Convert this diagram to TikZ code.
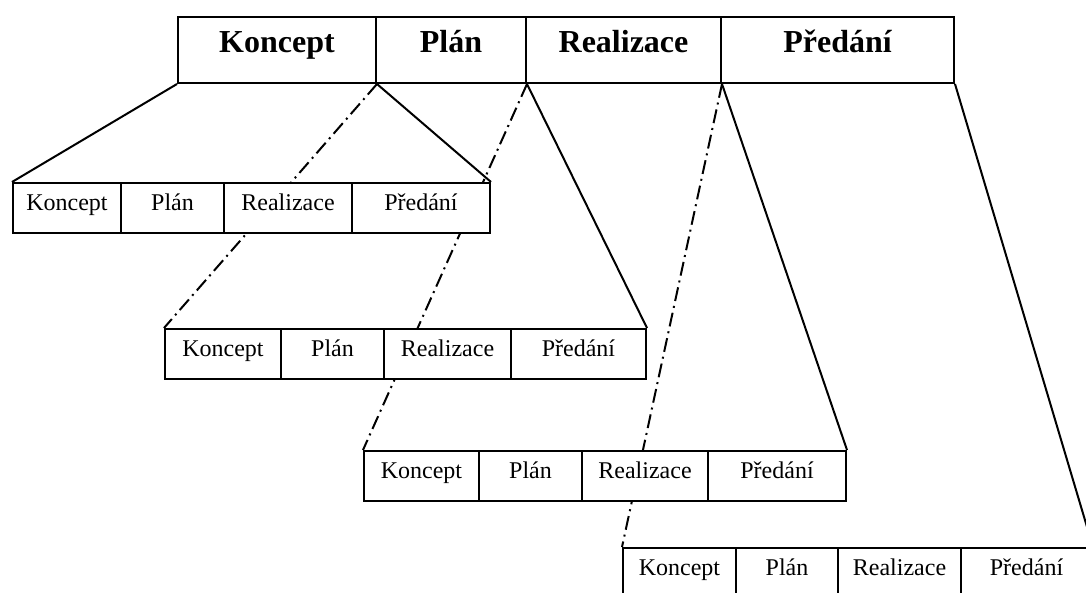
\documentclass[tikz,border=0pt]{standalone}
\usepackage{fontspec}
\setmainfont{Liberation Serif}
\usetikzlibrary{backgrounds}
\tikzset{
  cell/.style={draw, line width=2pt, fill=white, inner sep=0pt, anchor=north west,
    text height=0.70em, text depth=0.26em},
  topcell/.style={cell, minimum height=66pt, font=\fontsize{32}{36}\selectfont\bfseries},
  rowcell/.style={cell, minimum height=50pt, font=\fontsize{24}{28}\selectfont},
  solidline/.style={line width=2pt},
  dashdotline/.style={line width=2pt, dash pattern=on 14pt off 5pt on 2pt off 5pt}
}
\begin{document}
\begin{tikzpicture}[x=1pt,y=-1pt]
\useasboundingbox (0,0) rectangle (1086,592);
\clip (0,0) rectangle (1086,592);
% top row
\node[topcell, minimum width=198pt] (t0) at (177,16) {Koncept};
\node[topcell, minimum width=150pt] (t1) at (375,16) {Plán};
\node[topcell, minimum width=195pt] (t2) at (525,16) {Realizace};
\node[topcell, minimum width=233pt] (t3) at (720,16) {Předání};
% row 2
\node[rowcell, minimum width=108pt] (a0) at (12,182) {Koncept};
\node[rowcell, minimum width=103pt] (a1) at (120,182) {Plán};
\node[rowcell, minimum width=128pt] (a2) at (223,182) {Realizace};
\node[rowcell, minimum width=138pt] (a3) at (351,182) {Předání};
% row 3
\node[rowcell, minimum width=116pt] (b0) at (164,328) {Koncept};
\node[rowcell, minimum width=103pt] (b1) at (280,328) {Plán};
\node[rowcell, minimum width=127pt] (b2) at (383,328) {Realizace};
\node[rowcell, minimum width=135pt] (b3) at (510,328) {Předání};
% row 4
\node[rowcell, minimum width=115pt] (c0) at (363,450) {Koncept};
\node[rowcell, minimum width=103pt] (c1) at (478,450) {Plán};
\node[rowcell, minimum width=126pt] (c2) at (581,450) {Realizace};
\node[rowcell, minimum width=138pt] (c3) at (707,450) {Předání};
% row 5
\node[rowcell, minimum width=113pt] (d0) at (622,547) {Koncept};
\node[rowcell, minimum width=102pt] (d1) at (735,547) {Plán};
\node[rowcell, minimum width=123pt] (d2) at (837,547) {Realizace};
\node[rowcell, minimum width=131pt] (d3) at (960,547) {Předání};
% connectors
\begin{scope}[on background layer]
\fill[white] (0,0) rectangle (1086,592);
\draw[solidline] (t0.south west) -- (a0.north west);
\draw[solidline] (t0.south east) -- (a3.north east);
\draw[dashdotline] (t0.south east) -- (b0.north west);
\draw[solidline] (t1.south east) -- (b3.north east);
\draw[dashdotline] (t1.south east) -- (c0.north west);
\draw[solidline] (t2.south east) -- (c3.north east);
\draw[dashdotline] (t2.south east) -- (d0.north west);
\draw[solidline] (t3.south east) -- (d3.north east);
\end{scope}
\end{tikzpicture}
\end{document}
